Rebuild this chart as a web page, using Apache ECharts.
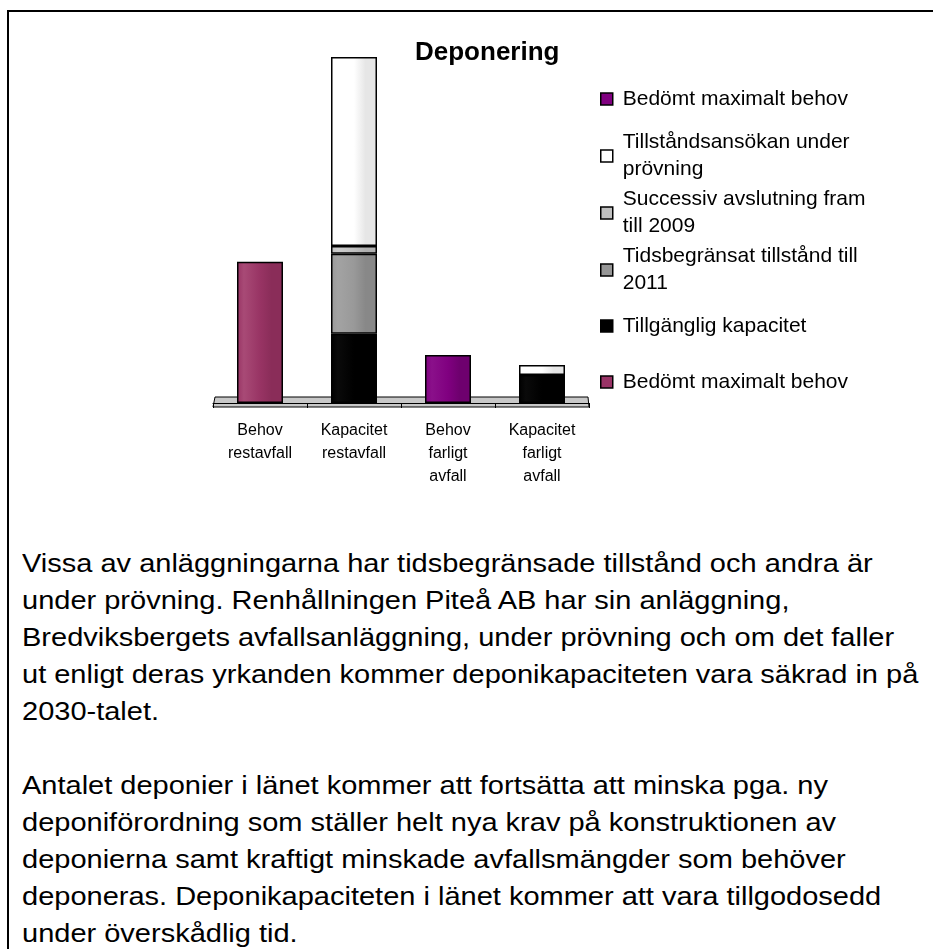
<!DOCTYPE html>
<html>
<head>
<meta charset="utf-8">
<script src="https://cdn.jsdelivr.net/npm/echarts@6/dist/echarts.min.js"></script>
<style>
    html, body {
        margin: 0;
        padding: 0;
        background: #ffffff;
        width: 933px;
        height: 949px;
        overflow: hidden;
        position: relative;
    }
    /* ram runt sidan */
    .frame {
        position: absolute;
        left: 7px;
        top: 10px;
        width: 1000px;
        height: 1000px;
        border-left: 2px solid #000;
        border-top: 2px solid #000;
    }
    #main {
        position: absolute;
        left: 0;
        top: 0;
        width: 933px;
        height: 520px;
    }
    .text {
        position: absolute;
        left: 22px;
        top: 545px;
        font-family: "Liberation Sans", Arial, sans-serif;
        font-size: 25px;
        line-height: 37px;
        color: #000;
        white-space: pre;
        transform: scaleX(1.16);
        transform-origin: 0 0;
    }
</style>
</head>
<body>
<div class="frame"></div>
<div id="main"></div>
<div class="text">Vissa av anläggningarna har tidsbegränsade tillstånd och andra är
under prövning. Renhållningen Piteå AB har sin anläggning,
Bredviksbergets avfallsanläggning, under prövning och om det faller
ut enligt deras yrkanden kommer deponikapaciteten vara säkrad in på
2030-talet.

Antalet deponier i länet kommer att fortsätta att minska pga. ny
deponiförordning som ställer helt nya krav på konstruktionen av
deponierna samt kraftigt minskade avfallsmängder som behöver
deponeras. Deponikapaciteten i länet kommer att vara tillgodosedd
under överskådlig tid.</div>

<script>
    // kategorier på x-axeln
    const categories = ['Behov\nrestavfall', 'Kapacitet\nrestavfall', 'Behov\nfarligt\navfall', 'Kapacitet\nfarligt\navfall'];

    // staplarnas värden (staplas i en och samma stack)
    const behovRestavfall = [408, '-', '-', '-'];
    const tillgangligKapacitet = ['-', 200, '-', 81];
    const tidsbegransat2011 = ['-', 231, '-', '-'];
    const successiv2009 = ['-', 23, '-', '-'];
    const tillstandsansokan = ['-', 546, '-', 29];
    const behovFarligt = ['-', '-', 139, '-'];

    // serienamn (unika) och texten som visas i förklaringen
    const seriesNames = ['behovRest', 'tillganglig', 'tidsbegransat', 'successiv', 'ansokan', 'behovFarligt'];
    const legendLabels = {
        behovRest: 'Bedömt maximalt behov',
        tillganglig: 'Tillgänglig kapacitet',
        tidsbegransat: 'Tidsbegränsat tillstånd till\n2011',
        successiv: 'Successiv avslutning fram\ntill 2009',
        ansokan: 'Tillståndsansökan under\nprövning',
        behovFarligt: 'Bedömt maximalt behov'
    };
    const seriesColors = {
        behovRest: '#993366',
        tillganglig: '#000000',
        tidsbegransat: '#969696',
        successiv: '#c0c0c0',
        ansokan: '#ffffff',
        behovFarligt: '#800080'
    };

    // cylinderliknande skuggning
    function shade(c1, c2, c3) {
        return new echarts.graphic.LinearGradient(0, 0, 1, 0, [
            {offset: 0, color: c1},
            {offset: 0.15, color: c2},
            {offset: 0.5, color: c1},
            {offset: 0.75, color: c3},
            {offset: 1, color: c3}
        ]);
    }

    const fills = {
        behovRest: shade('#983464', '#a84a76', '#8a2d59'),
        tillganglig: shade('#000000', '#0a0a0a', '#000000'),
        tidsbegransat: shade('#999999', '#a3a3a3', '#888888'),
        successiv: shade('#c0c0c0', '#cccccc', '#b0b0b0'),
        ansokan: shade('#ffffff', '#ffffff', '#e6e6e6'),
        behovFarligt: shade('#800080', '#8a108a', '#6e006e')
    };

    const seriesData = {
        behovRest: behovRestavfall,
        tillganglig: tillgangligKapacitet,
        tidsbegransat: tidsbegransat2011,
        successiv: successiv2009,
        ansokan: tillstandsansokan,
        behovFarligt: behovFarligt
    };

    // förklaringen: en post per rad, i omvänd ordning mot staplingen
    const legendOrder = ['behovFarligt', 'ansokan', 'successiv', 'tidsbegransat', 'tillganglig', 'behovRest'];
    const legendIconTops = [93, 150, 207, 264, 320, 376];

    const chart = echarts.init(document.getElementById('main'));

    const legends = legendOrder.map(function (name, i) {
        const twoLines = legendLabels[name].indexOf('\n') >= 0;
        return {
            orient: 'vertical',
            left: 600,
            top: legendIconTops[i] - (twoLines ? 34.5 : 7.5),
            padding: 0,
            itemWidth: 12,
            itemHeight: 12,
            icon: 'rect',
            selectedMode: false,
            data: [{
                name: name,
                itemStyle: {color: seriesColors[name], borderColor: '#000', borderWidth: 1.5}
            }],
            formatter: function (n) {
                return legendLabels[n];
            },
            textStyle: {
                fontFamily: 'Liberation Sans',
                fontSize: 21,
                lineHeight: 27,
                color: '#000',
                padding: twoLines ? [27, 0, 0, 5] : [0, 0, 0, 5]
            }
        };
    });

    chart.setOption({
        animation: false,
        title: {
            text: 'Deponering',
            left: 410,
            top: 35,
            textStyle: {
                fontFamily: 'Liberation Sans',
                fontWeight: 'bold',
                fontSize: 26,
                color: '#000'
            }
        },
        legend: legends,
        grid: {
            left: 213,
            top: 57,
            width: 376,
            height: 346
        },
        xAxis: {
            type: 'category',
            data: categories,
            offset: 5,
            axisLine: {lineStyle: {color: '#000', width: 1}},
            axisTick: {show: true, length: 5, lineStyle: {color: '#000'}},
            axisLabel: {
                fontFamily: 'Liberation Sans',
                fontSize: 16,
                lineHeight: 23,
                color: '#000',
                margin: 11,
                interval: 0
            }
        },
        yAxis: {
            type: 'value',
            min: 0,
            max: 1000,
            show: false
        },
        series: seriesNames.map(function (name) {
            return {
                name: name,
                type: 'bar',
                stack: 'dep',
                barWidth: 46,
                data: seriesData[name],
                itemStyle: {
                    color: fills[name],
                    borderColor: '#000',
                    borderWidth: 1.5
                }
            };
        })
    });

    // "golvet" under staplarna, räknat från axlarnas skala
    const p0 = chart.convertToPixel({xAxisIndex: 0, yAxisIndex: 0}, [0, 0]);
    const p3 = chart.convertToPixel({xAxisIndex: 0, yAxisIndex: 0}, [3, 0]);
    const band = (p3[0] - p0[0]) / 3;
    const floorL = p0[0] - band / 2;
    const floorR = p3[0] + band / 2;
    const floorY = p0[1];
    chart.setOption({
        graphic: [{
            type: 'polygon',
            z: 0,
            shape: {
                points: [
                    [floorL, floorY + 4],
                    [floorL + 2, floorY - 6],
                    [floorR - 1, floorY - 6],
                    [floorR, floorY + 4]
                ]
            },
            style: {fill: '#c8c8c8', stroke: '#000', lineWidth: 1}
        }]
    });
</script>
</body>
</html>
